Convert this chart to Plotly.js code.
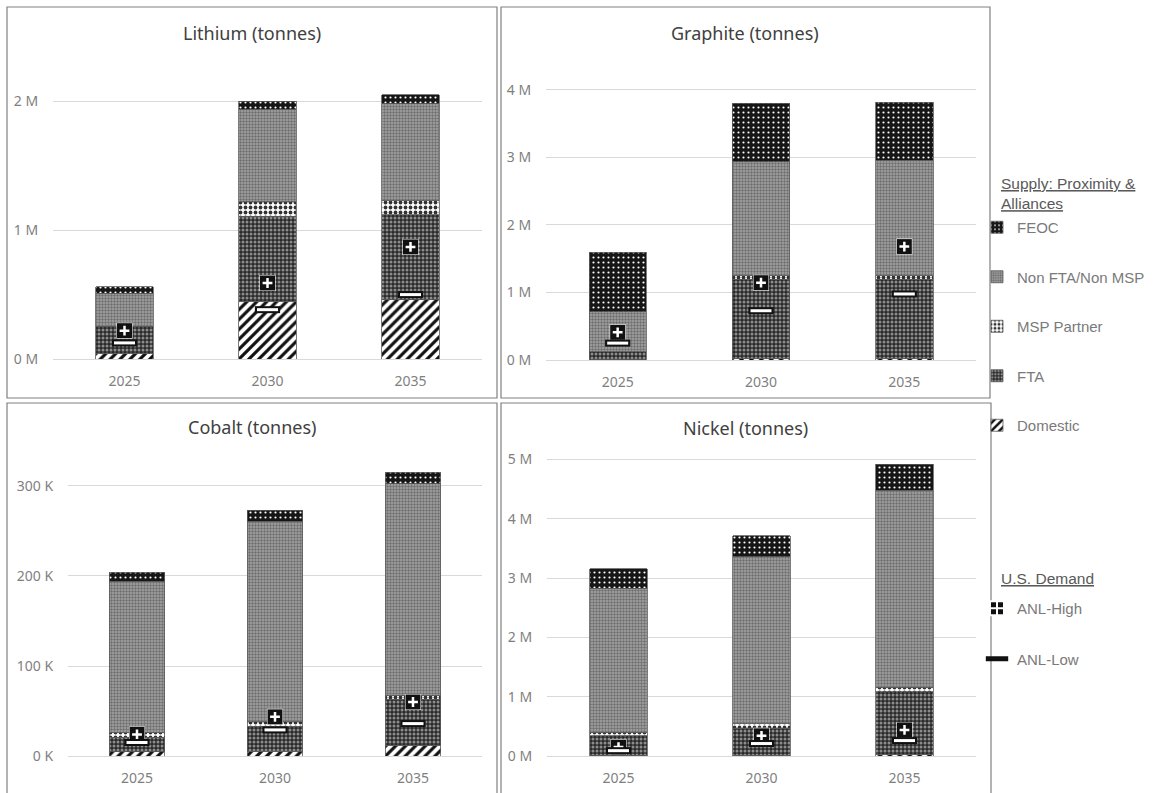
<!DOCTYPE html>
<html><head><meta charset="utf-8">
<script src="https://cdn.plot.ly/plotly-3.0.1.min.js"></script>
<style>html,body{margin:0;padding:0;background:#fff;overflow:hidden;width:1157px;height:793px}#chart{width:1157px;height:793px;overflow:hidden}</style>
</head><body><div id="chart"></div>
<script>
const years = ["2025", "2030", "2035"];
const seriesNames = ["Domestic", "FTA", "MSP Partner", "Non FTA/Non MSP", "FEOC"];

// Lithium (tonnes)
const lithiumDomestic = [41000, 450000, 460000];
const lithiumFTA = [212000, 660000, 660000];
const lithiumMSP = [0, 110000, 110000];
const lithiumNonFTA = [259000, 720000, 750000];
const lithiumFEOC = [47000, 60000, 70000];
const lithiumHigh = [220000, 590000, 870000];
const lithiumLow = [125000, 383000, 500000];
const lithiumTickVals = [0, 1000000, 2000000];
const lithiumTickText = ["0 M", "1 M", "2 M"];

// Graphite (tonnes)
const graphiteDomestic = [5000, 20000, 20000];
const graphiteFTA = [118000, 1175000, 1175000];
const graphiteMSP = [0, 50000, 50000];
const graphiteNonFTA = [593000, 1695000, 1715000];
const graphiteFEOC = [879000, 860000, 860000];
const graphiteHigh = [410000, 1145000, 1680000];
const graphiteLow = [250000, 730000, 978000];
const graphiteTickVals = [0, 1000000, 2000000, 3000000, 4000000];
const graphiteTickText = ["0 M", "1 M", "2 M", "3 M", "4 M"];

// Cobalt (tonnes)
const cobaltDomestic = [5000, 5500, 12000];
const cobaltFTA = [16000, 27500, 51000];
const cobaltMSP = [5000, 5000, 4500];
const cobaltNonFTA = [168000, 223000, 235000];
const cobaltFEOC = [10000, 12000, 12500];
const cobaltHigh = [24000, 43500, 60000];
const cobaltLow = [15000, 29000, 36000];
const cobaltTickVals = [0, 100000, 200000, 300000];
const cobaltTickText = ["0 K", "100 K", "200 K", "300 K"];

// Nickel (tonnes)
const nickelDomestic = [10000, 10000, 20000];
const nickelFTA = [330000, 460000, 1060000];
const nickelMSP = [60000, 70000, 80000];
const nickelNonFTA = [2430000, 2820000, 3320000];
const nickelFEOC = [330000, 350000, 440000];
const nickelHigh = [150000, 340000, 440000];
const nickelLow = [90000, 210000, 260000];
const nickelTickVals = [0, 1000000, 2000000, 3000000, 4000000, 5000000];
const nickelTickText = ["0 M", "1 M", "2 M", "3 M", "4 M", "5 M"];

const panelTitles = ["Lithium (tonnes)", "Graphite (tonnes)", "Cobalt (tonnes)", "Nickel (tonnes)"];

const W = 1157, H = 793;
const px = v => v / W;
const py = v => 1 - v / H;

const patterns = {
  "Domestic": {shape: "/", bgcolor: "#ffffff", fgcolor: "#111111", size: 7, solidity: 0.45},
  "FTA": {shape: ".", bgcolor: "#2a2a2a", fgcolor: "#8c8c8c", size: 4, solidity: 0.45},
  "MSP Partner": {shape: ".", bgcolor: "#ffffff", fgcolor: "#333333", size: 5, solidity: 0.45},
  "Non FTA/Non MSP": {shape: ".", bgcolor: "#a6a6a6", fgcolor: "#6e6e6e", size: 3, solidity: 0.5},
  "FEOC": {shape: ".", bgcolor: "#161616", fgcolor: "#ffffff", size: 5, solidity: 0.15}
};
const legendRanks = {"FEOC": 1, "Non FTA/Non MSP": 2, "MSP Partner": 3, "FTA": 4, "Domestic": 5};

const panels = [
  {series: [lithiumDomestic, lithiumFTA, lithiumMSP, lithiumNonFTA, lithiumFEOC], high: lithiumHigh, low: lithiumLow, tv: lithiumTickVals, tt: lithiumTickText},
  {series: [graphiteDomestic, graphiteFTA, graphiteMSP, graphiteNonFTA, graphiteFEOC], high: graphiteHigh, low: graphiteLow, tv: graphiteTickVals, tt: graphiteTickText},
  {series: [cobaltDomestic, cobaltFTA, cobaltMSP, cobaltNonFTA, cobaltFEOC], high: cobaltHigh, low: cobaltLow, tv: cobaltTickVals, tt: cobaltTickText},
  {series: [nickelDomestic, nickelFTA, nickelMSP, nickelNonFTA, nickelFEOC], high: nickelHigh, low: nickelLow, tv: nickelTickVals, tt: nickelTickText}
];

// pixel geometry of each plot area
const geom = [
  {x0: 53, x1: 482, yb: 359, yt: 60, ymax: 2321000},
  {x0: 546, x1: 976, yb: 360, yt: 60, ymax: 4444000},
  {x0: 68, x1: 482, yb: 756, yt: 440, ymax: 351100},
  {x0: 547, x1: 976, yb: 756, yt: 445, ymax: 5242000}
];
const titlePos = [[252, 33], [745, 33], [252, 427], [745, 428]];
const borders = [[7, 7, 497, 398], [501, 7, 990, 398], [7, 403, 497, 820], [501, 403, 991, 820]];

const legendFont = {family: "Liberation Sans, Arial, sans-serif", size: 15, color: "#7a7a7a"};
const traces = [];
const layout = {
  width: W, height: H, margin: {l: 0, r: 0, t: 0, b: 0},
  paper_bgcolor: "#ffffff", plot_bgcolor: "#ffffff",
  barmode: "stack", bargap: 0.6, hovermode: false,
  font: {family: "Noto Sans, Open Sans, sans-serif", color: "#7f7f7f"},
  annotations: [], shapes: [],
  legend: {x: px(977), y: py(211), xanchor: "left", yanchor: "top", traceorder: "grouped",
           tracegroupgap: 27, itemwidth: 30, bgcolor: "rgba(0,0,0,0)", font: legendFont},
  legend2: {x: px(977), y: py(592), xanchor: "left", yanchor: "top", traceorder: "grouped",
           tracegroupgap: 28, itemwidth: 30, bgcolor: "rgba(0,0,0,0)", font: legendFont}
};

panels.forEach((p, i) => {
  const n = i + 1;
  const xa = n === 1 ? "x" : "x" + n;
  const ya = n === 1 ? "y" : "y" + n;
  const g = geom[i];
  p.series.forEach((vals, s) => {
    const name = seriesNames[s];
    const pt = patterns[name];
    traces.push({
      type: "bar", x: years, y: vals, name: name, xaxis: xa, yaxis: ya,
      legend: "legend", legendgroup: name, legendrank: legendRanks[name], showlegend: i === 0,
      marker: {color: pt.bgcolor, line: {color: "#5a5a5a", width: 0.8},
               pattern: {shape: pt.shape, bgcolor: pt.bgcolor, fgcolor: pt.fgcolor, size: pt.size, solidity: pt.solidity, fillmode: "replace"}}
    });
  });
  // ANL-High: legend shows a square with a plus; the plot shows a black square with a smaller white plus
  traces.push({
    type: "scatter", mode: "markers", x: years, y: p.high, name: "ANL-High", xaxis: xa, yaxis: ya,
    legend: "legend2", legendgroup: "high", legendrank: 1, showlegend: i === 0,
    marker: {symbol: "square-cross", size: 14, color: "#111111", line: {color: "#ffffff", width: 2}}
  });
  traces.push({
    type: "scatter", mode: "markers", x: years, y: p.high, name: "ANL-High", xaxis: xa, yaxis: ya,
    legend: "legend2", legendgroup: "high", showlegend: false,
    marker: {symbol: "square", size: 15, color: "#111111", line: {width: 0}}
  });
  traces.push({
    type: "scatter", mode: "markers", x: years, y: p.high, name: "ANL-High", xaxis: xa, yaxis: ya,
    legend: "legend2", legendgroup: "high", showlegend: false,
    marker: {symbol: "cross-thin", size: 7, color: "#ffffff", line: {color: "#ffffff", width: 2.5}}
  });
  traces.push({
    type: "scatter", mode: "markers", x: years, y: p.low, name: "ANL-Low", xaxis: xa, yaxis: ya,
    legend: "legend2", legendgroup: "low", legendrank: 2, showlegend: i === 0,
    marker: {symbol: "line-ew", size: 18, color: "#111111", line: {color: "#111111", width: 7}}
  });
  traces.push({
    type: "scatter", mode: "markers", x: years, y: p.low, name: "ANL-Low", xaxis: xa, yaxis: ya,
    legend: "legend2", legendgroup: "low", showlegend: false,
    marker: {symbol: "line-ew", size: 15, color: "#ffffff", line: {color: "#ffffff", width: 3}}
  });

  const xkey = n === 1 ? "xaxis" : "xaxis" + n;
  const ykey = n === 1 ? "yaxis" : "yaxis" + n;
  layout[xkey] = {
    domain: [px(g.x0), px(g.x1)], anchor: ya, type: "category",
    showgrid: false, zeroline: false, showline: false,
    ticks: "outside", ticklen: 9, tickcolor: "rgba(0,0,0,0)",
    tickfont: {size: 14, color: "#7f7f7f"}, fixedrange: true
  };
  layout[ykey] = {
    domain: [py(g.yb), py(g.yt)], anchor: xa, range: [0, g.ymax],
    tickvals: p.tv, ticktext: p.tt,
    showgrid: true, gridcolor: "#d9d9d9", gridwidth: 1,
    zeroline: true, zerolinecolor: "#d9d9d9", zerolinewidth: 1, showline: false,
    ticks: "outside", ticklen: 11, tickcolor: "rgba(0,0,0,0)",
    tickfont: {size: 14, color: "#7f7f7f"}, fixedrange: true
  };
  layout.annotations.push({
    xref: "paper", yref: "paper", x: px(titlePos[i][0]), y: py(titlePos[i][1]),
    xanchor: "center", yanchor: "middle", showarrow: false, text: panelTitles[i],
    font: {size: 18, color: "#404040", family: "Noto Sans, Open Sans, sans-serif"}
  });
  const b = borders[i];
  layout.shapes.push({type: "rect", xref: "paper", yref: "paper",
    x0: px(b[0]), x1: px(b[2]), y0: py(b[1]), y1: py(b[3]),
    line: {color: "#808080", width: 1.2}, fillcolor: "rgba(0,0,0,0)", layer: "below"});
});

const headerFont = {family: "Liberation Sans, Arial, sans-serif", size: 15.5, color: "#595959", lineposition: "under"};
layout.annotations.push({xref: "paper", yref: "paper", x: px(999), y: py(173), xanchor: "left", yanchor: "top",
  align: "left", showarrow: false, text: "Supply: Proximity &amp;<br>Alliances", font: headerFont});
layout.annotations.push({xref: "paper", yref: "paper", x: px(999), y: py(568), xanchor: "left", yanchor: "top",
  align: "left", showarrow: false, text: "U.S. Demand", font: headerFont});

Plotly.newPlot("chart", traces, layout, {displayModeBar: false, staticPlot: true});
</script>
</body></html>
